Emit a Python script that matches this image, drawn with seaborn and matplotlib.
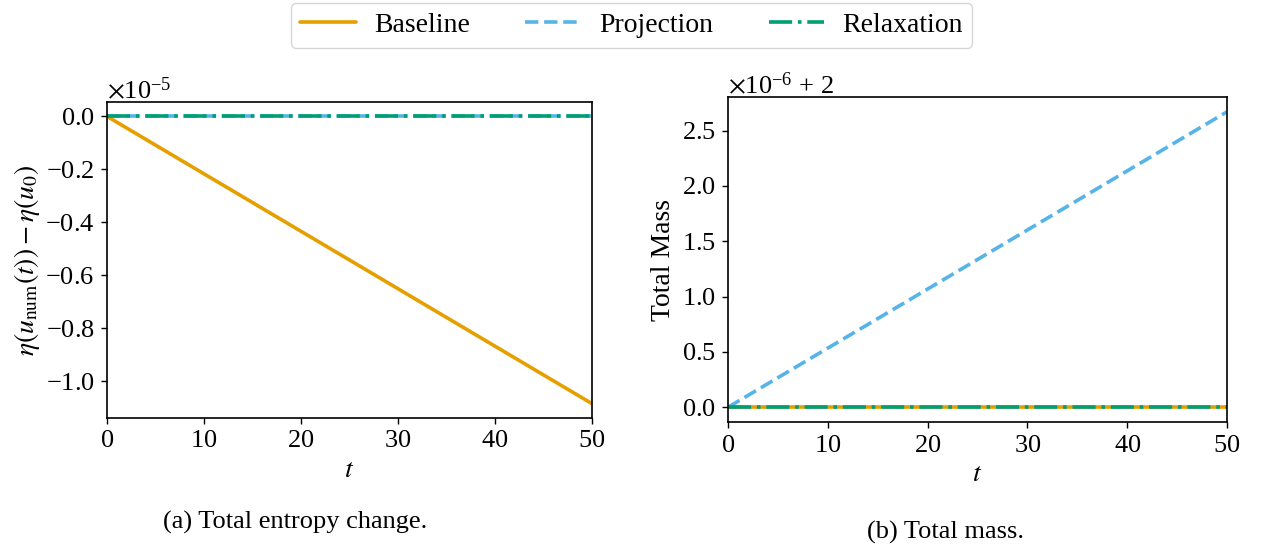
import numpy as np
import pandas as pd
import matplotlib
matplotlib.use("Agg")
import matplotlib.pyplot as plt
import matplotlib.ticker as mticker
import seaborn as sns

# time grid (end points of the straight lines)
t = [0, 50]

# entropy change eta(u_num(t)) - eta(u0)
entropy_baseline = [0.0, -1.085e-5]
entropy_projection = [0.0, 0.0]
entropy_relaxation = [0.0, 0.0]

# total mass
mass_baseline = [2.0, 2.0]
mass_projection = [2.0, 2.0 + 2.67e-6]
mass_relaxation = [2.0, 2.0]

methods = ["Baseline", "Projection", "Relaxation"]
colors = ["#E69F00", "#56B4E9", "#009E73"]
styles = ["-", "--", "-."]


class SpacedOffset(mticker.ScalarFormatter):
    # put some space round the "+" of the offset, like LaTeX does
    def get_offset(self):
        s = super().get_offset()
        return s.replace(r"\mathdefault{+", r"\mathdefault{\,+\,")


sns.set_theme(style="ticks")
plt.rcParams["font.family"] = ["Liberation Serif", "DejaVu Serif"]
plt.rcParams["mathtext.fontset"] = "stix"
plt.rcParams["axes.formatter.use_mathtext"] = True
plt.rcParams["axes.linewidth"] = 1.2
plt.rcParams["text.color"] = "black"
plt.rcParams["axes.labelcolor"] = "black"
plt.rcParams["axes.edgecolor"] = "black"
plt.rcParams["xtick.labelsize"] = 19
plt.rcParams["ytick.labelsize"] = 19
plt.rcParams["axes.labelsize"] = 20

fig = plt.figure(figsize=(12.63, 5.51), dpi=100)
ax1 = fig.add_axes([0.0847, 0.2414, 0.384, 0.5735])
ax2 = fig.add_axes([0.5764, 0.2341, 0.3951, 0.5898])

entropy = [entropy_baseline, entropy_projection, entropy_relaxation]
mass = [mass_baseline, mass_projection, mass_relaxation]

for ax, series in [(ax1, entropy), (ax2, mass)]:
    for name, vals, c, ls in zip(methods, series, colors, styles):
        df = pd.DataFrame({"t": t, "v": vals})
        sns.lineplot(data=df, x="t", y="v", ax=ax, color=c, linestyle=ls,
                     linewidth=2.6, label=name, legend=False)
    ax.set_xlim(0, 50)
    ax.set_xlabel("$t$", labelpad=4)
    ax.tick_params(direction="out", length=4, width=1.0, colors="black", pad=5)
    ax.yaxis.set_major_formatter(SpacedOffset(useMathText=True))
    ax.yaxis.get_offset_text().set_fontsize(19)

ax1.set_ylabel(r"$\eta(u_{\mathrm{num}}(t)) - \eta(u_0)$", labelpad=2)
ax2.set_ylabel("Total Mass", labelpad=4)
ax1.set_yticks(np.array([0.0, -0.2, -0.4, -0.6, -0.8, -1.0]) * 1e-5)
ax2.set_yticks(2.0 + np.array([0.0, 0.5, 1.0, 1.5, 2.0, 2.5]) * 1e-6)

handles, labels = ax1.get_legend_handles_labels()
fig.legend(handles, labels, loc="upper center", bbox_to_anchor=(0.5, 1.0),
           ncol=3, fontsize=20, handlelength=2.0, columnspacing=2.0,
           handletextpad=0.65, borderpad=0.35, borderaxespad=0.1,
           frameon=True, fancybox=True, edgecolor="#cccccc")

fig.text(295 / 1263, 1 - 522 / 551, "(a) Total entropy change.",
         ha="center", va="center", fontsize=19)
fig.text(945 / 1263, 1 - 532 / 551, "(b) Total mass.",
         ha="center", va="center", fontsize=19)

fig.savefig("out.png", dpi=100)
